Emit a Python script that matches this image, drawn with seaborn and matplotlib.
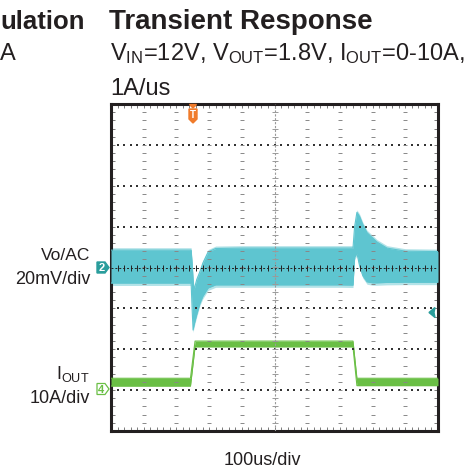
import numpy as np
import pandas as pd
import matplotlib
matplotlib.use("Agg")
import matplotlib.pyplot as plt
import seaborn as sns
from matplotlib.patches import Polygon

# ---------------- data ----------------
# Vo/AC noise envelope (mV), 20 mV/div, channel 2 ground at centre
t_vo_us = [0, 100, 200, 245, 248, 251, 254, 262, 272, 281, 297, 320, 400, 500,
           600, 700, 740, 745, 752, 760, 770, 783, 800, 813, 844, 900, 1000]
vo_upper_mV = [8.5, 8.5, 8.5, 8.5, 2.0, -6.0, -11.0, -6.0, -2.0, 2.2, 7.6, 9.3, 9.5, 9.5,
               9.5, 9.5, 9.5, 20.0, 27.0, 25.0, 21.0, 17.0, 14.5, 12.5, 9.5, 8.0, 7.8]
vo_lower_mV = [-7.6, -7.6, -7.6, -7.6, -20.0, -30.6, -28.0, -23.0, -17.4, -14.0, -10.0, -8.5, -8.5, -8.5,
               -8.5, -8.5, -8.6, 5.0, 7.0, 1.0, -4.0, -7.0, -7.5, -7.5, -7.3, -7.2, -7.2]

# I_OUT envelope (A), 10 A/div
t_i_us = [0, 243, 257, 740, 752, 1000]
i_upper_A = [2.6, 2.6, 11.7, 11.7, 2.6, 2.6]
i_lower_A = [0.7, 0.7, 10.3, 10.3, 0.8, 0.8]

title = "Transient Response"
subtitle1 = r"V$_\mathrm{IN}$=12V, V$_\mathrm{OUT}$=1.8V, I$_\mathrm{OUT}$=0-10A,"
subtitle2 = "1A/us"
xlabel = "100us/div"

# ---------------- styling / layout ----------------
W, H = 476, 473
sns.set_style("white")
plt.rcParams["font.family"] = ["Liberation Sans", "DejaVu Sans"]
plt.rcParams["mathtext.fontset"] = "custom"
plt.rcParams["mathtext.rm"] = "Liberation Sans"
plt.rcParams["mathtext.it"] = "Liberation Sans:italic"
plt.rcParams["mathtext.bf"] = "Liberation Sans:bold"

US_PER_DIV = 100.0
MV_PER_DIV = 20.0
A_PER_DIV = 10.0
CH2_OFFSET = 0.0
CH4_OFFSET = -2.97

vo = pd.DataFrame({"t": np.array(t_vo_us) / US_PER_DIV,
                   "up": np.array(vo_upper_mV) / MV_PER_DIV + CH2_OFFSET,
                   "lo": np.array(vo_lower_mV) / MV_PER_DIV + CH2_OFFSET})
io = pd.DataFrame({"t": np.array(t_i_us) / US_PER_DIV,
                   "up": np.array(i_upper_A) / A_PER_DIV + CH4_OFFSET,
                   "lo": np.array(i_lower_A) / A_PER_DIV + CH4_OFFSET})

fig = plt.figure(figsize=(W / 100, H / 100), dpi=100)
ax = fig.add_axes([111 / W, 1 - 431 / H, 327 / W, 327 / H])
ax.set_xlim(0, 10)
ax.set_ylim(-4, 4)

CYAN = "#5ec5d0"
CYAN_L = "#b3e3e8"
GREEN = "#6abf45"
INK = "#231f20"

# traces
ax.fill_between(vo["t"], vo["up"] + 0.06, vo["lo"] - 0.06, color=CYAN_L, lw=0, zorder=2)
ax.fill_between(vo["t"], vo["up"], vo["lo"], color=CYAN, lw=0, zorder=3)
sns.lineplot(data=vo, x="t", y="up", ax=ax, color=CYAN, lw=0.8, zorder=3)
sns.lineplot(data=vo, x="t", y="lo", ax=ax, color=CYAN, lw=0.8, zorder=3)
ax.fill_between(io["t"], io["up"], io["lo"], color=GREEN, lw=0, zorder=3)
sns.lineplot(data=io, x="t", y="up", ax=ax, color=GREEN, lw=0.8, zorder=3)
sns.lineplot(data=io, x="t", y="lo", ax=ax, color=GREEN, lw=0.8, zorder=3)

# graticule
minor_x = np.arange(0, 10.001, 0.2)[1:-1]
minor_y = np.arange(-4, 4.001, 0.2)[1:-1]
for gy in [-3, -2, -1, 1, 2, 3]:
    ax.scatter(minor_x, np.full_like(minor_x, gy), marker="s", s=1.0, color="#333333",
               lw=0, zorder=5)
for gx in [1, 2, 3, 4, 6, 7, 8, 9]:
    ax.scatter(np.full_like(minor_y, gx), minor_y, marker="_", s=5, color="#888888",
               lw=0.7, zorder=5)
ax.axhline(0, color="#222222", lw=0.7, ls=(0, (2, 2)), zorder=5)
ax.scatter(minor_x, np.zeros_like(minor_x), marker="|", s=22, color="#222222", lw=0.7, zorder=5)
ax.axvline(5, color="#9a9a9a", lw=0.8, ls=(0, (2, 1.5)), zorder=5)
ax.scatter(np.full_like(minor_y, 5), minor_y, marker="_", s=20, color="#9a9a9a", lw=0.7, zorder=5)

ax.set_xticks([])
ax.set_yticks([])
ax.set_xticks(np.arange(0, 10.001, 0.2), minor=True)
ax.set_yticks(np.arange(-4, 4.001, 0.2), minor=True)
ax.tick_params(which="minor", direction="in", length=3, width=0.6, color="#666666",
               top=True, bottom=True, left=True, right=True,
               labelbottom=False, labelleft=False)
for s in ax.spines.values():
    s.set_visible(True)
    s.set_color(INK)
    s.set_linewidth(2.2)
ax.set_xlabel("")
ax.set_ylabel("")

# ---------------- texts ----------------
def P(x, y):
    return (x / W, 1 - y / H)

fig.text(*P(0, 29), "ulation", fontsize=18.5, fontweight="bold", color=INK,
         ha="left", va="baseline")
fig.text(*P(0, 60), "A", fontsize=17, color=INK, ha="left", va="baseline")
fig.text(*P(109, 29), title, fontsize=20, fontweight="bold", color=INK,
         ha="left", va="baseline")
fig.text(*P(110, 60), subtitle1, fontsize=17, color=INK, ha="left", va="baseline")
fig.text(*P(110, 95), subtitle2, fontsize=17, color=INK, ha="left", va="baseline")

fig.text(*P(90, 260), "Vo/AC", fontsize=12.5, color=INK, ha="right", va="baseline")
fig.text(*P(90, 284), "20mV/div", fontsize=13, color=INK, ha="right", va="baseline")
fig.text(*P(89, 379), r"I$_\mathrm{OUT}$", fontsize=13, color=INK, ha="right", va="baseline")
fig.text(*P(90, 403), "10A/div", fontsize=13, color=INK, ha="right", va="baseline")
fig.text(*P(262, 465), xlabel, fontsize=13, color=INK, ha="center", va="baseline")

# ---------------- channel markers ----------------
TEAL = "#2a9d9c"
ORANGE = "#f07b2b"
m2 = [P(97, 262), P(105, 262), P(109, 267.5), P(105, 273), P(97, 273)]
fig.patches.append(Polygon(m2, closed=True, facecolor=TEAL, edgecolor=TEAL,
                           transform=fig.transFigure, figure=fig))
fig.text(*P(101.5, 268), "2", fontsize=8, color="white", fontweight="bold",
         ha="center", va="center")
m4 = [P(97, 383.5), P(105, 383.5), P(109, 389), P(105, 394.5), P(97, 394.5)]
fig.patches.append(Polygon(m4, closed=True, facecolor="white", edgecolor=GREEN, lw=0.9,
                           transform=fig.transFigure, figure=fig))
fig.text(*P(101.5, 389.5), "4", fontsize=8, color=GREEN, fontweight="bold",
         ha="center", va="center")
mt = [P(189, 109), P(197, 109), P(197, 119), P(193, 123), P(189, 119)]
fig.patches.append(Polygon(mt, closed=True, facecolor=ORANGE, edgecolor=ORANGE,
                           transform=fig.transFigure, figure=fig))
fig.patches.append(Polygon([P(189.5, 104.5), P(196.5, 104.5), P(193, 108)], closed=True,
                           facecolor=ORANGE, edgecolor=ORANGE,
                           transform=fig.transFigure, figure=fig))
fig.text(*P(193, 114.5), "T", fontsize=7, color="white", fontweight="bold",
         ha="center", va="center")
mr = [P(429, 312.5), P(435, 307.5), P(434, 312.5), P(435, 317.5)]
fig.patches.append(Polygon(mr, closed=True, facecolor=TEAL, edgecolor=TEAL,
                           transform=fig.transFigure, figure=fig))

fig.savefig("out.png", dpi=100)
